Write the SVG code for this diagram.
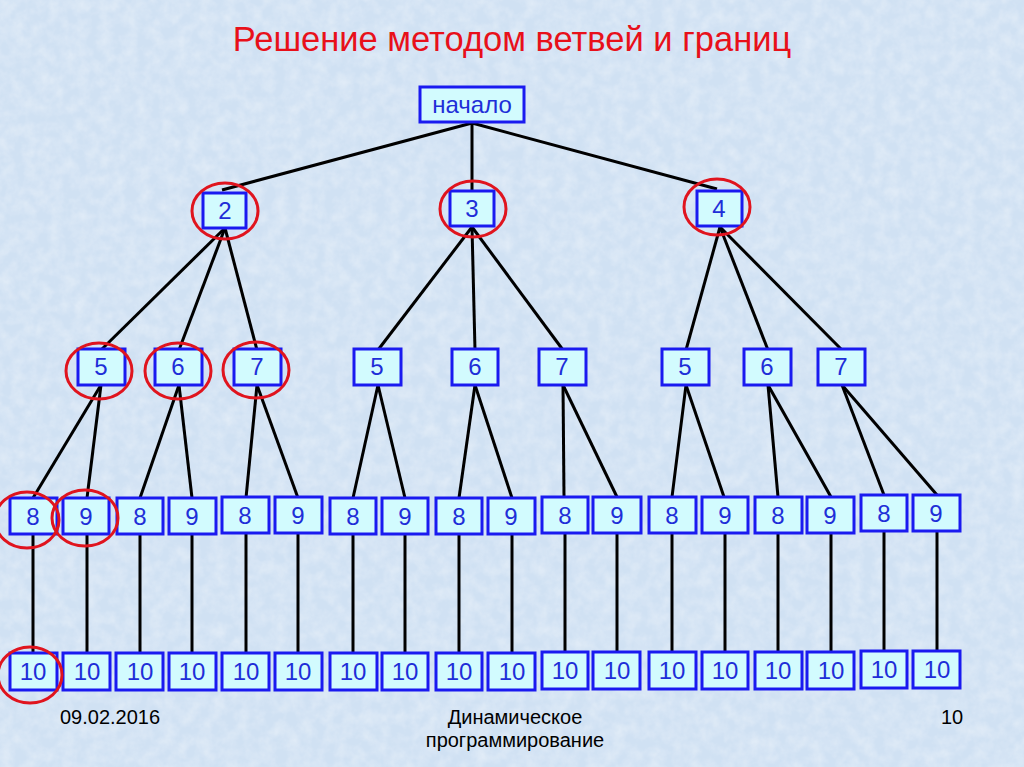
<svg xmlns="http://www.w3.org/2000/svg" width="1024" height="767" viewBox="0 0 1024 767">
<defs>
<style>
.bx{fill:#d2fbfe;stroke:#1a1af0;stroke-width:3}
.t{font-family:"Liberation Sans",Arial,sans-serif;font-size:24px;fill:#1e2ed8;text-anchor:middle}
.c{fill:none;stroke:#e0141e;stroke-width:3}
.ln{stroke:#000;stroke-width:3;fill:none}
.ft{font-family:"Liberation Sans",Arial,sans-serif;font-size:20px;fill:#000}
</style>
<filter id="tex" x="0" y="0" width="100%" height="100%">
<feTurbulence type="fractalNoise" baseFrequency="0.08" numOctaves="3" seed="4"/>
<feColorMatrix type="matrix" values="0 0 0 0 1  0 0 0 0 1  0 0 0 0 1  0 0 0 -1.6 1.1"/>
</filter>
</defs>
<rect width="1024" height="767" fill="#d0e1f3"/>
<rect width="1024" height="767" filter="url(#tex)" opacity="0.35"/>
<text x="512" y="51" font-family="Liberation Sans,Arial,sans-serif" font-size="34.5" fill="#e8101a" text-anchor="middle">Решение методом ветвей и границ</text>

<g id="connectors" class="ln">
<line x1="472" y1="123" x2="222" y2="190"/>
<line x1="472" y1="123" x2="472" y2="191"/>
<line x1="472" y1="123" x2="717" y2="189"/>
<line x1="225" y1="228" x2="101" y2="350"/>
<line x1="225" y1="228" x2="179" y2="350"/>
<line x1="225" y1="228" x2="257" y2="350"/>
<line x1="472" y1="227" x2="378" y2="350"/>
<line x1="472" y1="227" x2="475" y2="350"/>
<line x1="472" y1="227" x2="563" y2="350"/>
<line x1="720" y1="227" x2="686" y2="350"/>
<line x1="720" y1="227" x2="768" y2="350"/>
<line x1="720" y1="227" x2="842" y2="350"/>
<line x1="101" y1="385" x2="33" y2="498"/>
<line x1="101" y1="385" x2="87" y2="498"/>
<line x1="179" y1="385" x2="140" y2="498"/>
<line x1="179" y1="385" x2="192" y2="498"/>
<line x1="257" y1="385" x2="246" y2="498"/>
<line x1="257" y1="385" x2="298" y2="498"/>
<line x1="378" y1="385" x2="353" y2="498"/>
<line x1="378" y1="385" x2="405" y2="498"/>
<line x1="475" y1="385" x2="459" y2="498"/>
<line x1="475" y1="385" x2="512" y2="498"/>
<line x1="563" y1="385" x2="564" y2="497"/>
<line x1="563" y1="385" x2="617" y2="497"/>
<line x1="686" y1="385" x2="672" y2="497"/>
<line x1="686" y1="385" x2="724" y2="497"/>
<line x1="768" y1="385" x2="778" y2="497"/>
<line x1="768" y1="385" x2="831" y2="497"/>
<line x1="842" y1="385" x2="884" y2="495"/>
<line x1="842" y1="385" x2="937" y2="495"/>
<line x1="33" y1="534" x2="33" y2="653"/>
<line x1="87" y1="534" x2="87" y2="653"/>
<line x1="140" y1="534" x2="140" y2="653"/>
<line x1="192" y1="534" x2="192" y2="653"/>
<line x1="246" y1="534" x2="246" y2="653"/>
<line x1="298" y1="534" x2="298" y2="653"/>
<line x1="353" y1="534" x2="353" y2="653"/>
<line x1="405" y1="534" x2="405" y2="653"/>
<line x1="459" y1="534" x2="459" y2="653"/>
<line x1="512" y1="534" x2="512" y2="653"/>
<line x1="565" y1="533" x2="565" y2="652"/>
<line x1="617" y1="533" x2="617" y2="652"/>
<line x1="672" y1="533" x2="672" y2="652"/>
<line x1="725" y1="533" x2="725" y2="652"/>
<line x1="778" y1="533" x2="778" y2="652"/>
<line x1="831" y1="533" x2="831" y2="652"/>
<line x1="884" y1="531" x2="884" y2="651"/>
<line x1="937" y1="531" x2="937" y2="651"/>
</g>

<g id="n-root"><rect class="bx" x="420" y="87" width="104" height="35"/><text class="t" x="472" y="113" font-size="25">начало</text></g>

<g id="n2"><rect class="bx" x="203" y="193" width="43" height="35"/><text class="t" x="225" y="219">2</text></g>
<g id="n3"><rect class="bx" x="450" y="191" width="44" height="35"/><text class="t" x="472" y="217">3</text></g>
<g id="n4"><rect class="bx" x="697" y="191" width="45" height="35"/><text class="t" x="719" y="217">4</text></g>

<g id="n2-5"><rect class="bx" x="78" y="349" width="47" height="36"/><text class="t" x="101" y="375">5</text></g>
<g id="n2-6"><rect class="bx" x="155" y="349" width="47" height="36"/><text class="t" x="178" y="375">6</text></g>
<g id="n2-7"><rect class="bx" x="234" y="349" width="47" height="36"/><text class="t" x="257" y="375">7</text></g>
<g id="n3-5"><rect class="bx" x="354" y="349" width="47" height="36"/><text class="t" x="377" y="375">5</text></g>
<g id="n3-6"><rect class="bx" x="452" y="349" width="46" height="36"/><text class="t" x="475" y="375">6</text></g>
<g id="n3-7"><rect class="bx" x="539" y="349" width="47" height="36"/><text class="t" x="562" y="375">7</text></g>
<g id="n4-5"><rect class="bx" x="662" y="349" width="47" height="36"/><text class="t" x="685" y="375">5</text></g>
<g id="n4-6"><rect class="bx" x="744" y="349" width="47" height="36"/><text class="t" x="767" y="375">6</text></g>
<g id="n4-7"><rect class="bx" x="818" y="349" width="47" height="36"/><text class="t" x="841" y="375">7</text></g>

<g id="l4-1"><rect class="bx" x="10" y="498" width="47" height="36"/><text class="t" x="33" y="525">8</text></g>
<g id="l4-2"><rect class="bx" x="63" y="498" width="46" height="36"/><text class="t" x="86" y="525">9</text></g>
<g id="l4-3"><rect class="bx" x="117" y="498" width="46" height="36"/><text class="t" x="140" y="525">8</text></g>
<g id="l4-4"><rect class="bx" x="169" y="498" width="47" height="36"/><text class="t" x="192" y="525">9</text></g>
<g id="l4-5"><rect class="bx" x="222" y="497" width="47" height="36"/><text class="t" x="245" y="524">8</text></g>
<g id="l4-6"><rect class="bx" x="275" y="497" width="47" height="36"/><text class="t" x="298" y="524">9</text></g>
<g id="l4-7"><rect class="bx" x="330" y="498" width="46" height="36"/><text class="t" x="353" y="525">8</text></g>
<g id="l4-8"><rect class="bx" x="382" y="498" width="46" height="36"/><text class="t" x="405" y="525">9</text></g>
<g id="l4-9"><rect class="bx" x="436" y="498" width="46" height="36"/><text class="t" x="459" y="525">8</text></g>
<g id="l4-10"><rect class="bx" x="488" y="498" width="47" height="36"/><text class="t" x="511" y="525">9</text></g>
<g id="l4-11"><rect class="bx" x="542" y="497" width="46" height="36"/><text class="t" x="565" y="524">8</text></g>
<g id="l4-12"><rect class="bx" x="593" y="497" width="48" height="36"/><text class="t" x="617" y="524">9</text></g>
<g id="l4-13"><rect class="bx" x="649" y="497" width="47" height="36"/><text class="t" x="672" y="524">8</text></g>
<g id="l4-14"><rect class="bx" x="702" y="497" width="46" height="36"/><text class="t" x="725" y="524">9</text></g>
<g id="l4-15"><rect class="bx" x="755" y="497" width="47" height="36"/><text class="t" x="778" y="524">8</text></g>
<g id="l4-16"><rect class="bx" x="807" y="497" width="47" height="36"/><text class="t" x="830" y="524">9</text></g>
<g id="l4-17"><rect class="bx" x="861" y="495" width="46" height="36"/><text class="t" x="884" y="522">8</text></g>
<g id="l4-18"><rect class="bx" x="913" y="495" width="47" height="36"/><text class="t" x="936" y="522">9</text></g>

<g id="l5-1"><rect class="bx" x="10" y="653" width="47" height="37"/><text class="t" x="33" y="680">10</text></g>
<g id="l5-2"><rect class="bx" x="63" y="653" width="47" height="37"/><text class="t" x="87" y="680">10</text></g>
<g id="l5-3"><rect class="bx" x="116" y="653" width="47" height="37"/><text class="t" x="140" y="680">10</text></g>
<g id="l5-4"><rect class="bx" x="169" y="653" width="47" height="37"/><text class="t" x="192" y="680">10</text></g>
<g id="l5-5"><rect class="bx" x="222" y="653" width="47" height="37"/><text class="t" x="246" y="680">10</text></g>
<g id="l5-6"><rect class="bx" x="275" y="653" width="47" height="37"/><text class="t" x="298" y="680">10</text></g>
<g id="l5-7"><rect class="bx" x="330" y="653" width="47" height="37"/><text class="t" x="353" y="680">10</text></g>
<g id="l5-8"><rect class="bx" x="382" y="653" width="46" height="37"/><text class="t" x="405" y="680">10</text></g>
<g id="l5-9"><rect class="bx" x="436" y="653" width="46" height="37"/><text class="t" x="459" y="680">10</text></g>
<g id="l5-10"><rect class="bx" x="488" y="653" width="47" height="37"/><text class="t" x="512" y="680">10</text></g>
<g id="l5-11"><rect class="bx" x="542" y="652" width="46" height="37"/><text class="t" x="565" y="679">10</text></g>
<g id="l5-12"><rect class="bx" x="593" y="652" width="47" height="37"/><text class="t" x="617" y="679">10</text></g>
<g id="l5-13"><rect class="bx" x="649" y="652" width="47" height="37"/><text class="t" x="672" y="679">10</text></g>
<g id="l5-14"><rect class="bx" x="702" y="652" width="46" height="37"/><text class="t" x="725" y="679">10</text></g>
<g id="l5-15"><rect class="bx" x="755" y="652" width="47" height="37"/><text class="t" x="778" y="679">10</text></g>
<g id="l5-16"><rect class="bx" x="807" y="652" width="47" height="37"/><text class="t" x="831" y="679">10</text></g>
<g id="l5-17"><rect class="bx" x="861" y="651" width="46" height="37"/><text class="t" x="884" y="678">10</text></g>
<g id="l5-18"><rect class="bx" x="913" y="651" width="47" height="37"/><text class="t" x="937" y="678">10</text></g>

<g id="marks">
<ellipse class="c" cx="225" cy="211" rx="33" ry="28"/>
<ellipse class="c" cx="473" cy="209" rx="33" ry="28"/>
<ellipse class="c" cx="717" cy="207" rx="33" ry="28"/>
<ellipse class="c" cx="99" cy="371" rx="33" ry="28"/>
<ellipse class="c" cx="178" cy="371" rx="33" ry="28"/>
<ellipse class="c" cx="256" cy="370" rx="33" ry="28"/>
<ellipse class="c" cx="27" cy="520" rx="32" ry="28"/>
<ellipse class="c" cx="85" cy="518" rx="33" ry="28"/>
<ellipse class="c" cx="30" cy="675" rx="32" ry="28"/>
</g>

<text class="ft" x="60" y="724">09.02.2016</text>
<text class="ft" x="515" y="724" text-anchor="middle">Динамическое</text>
<text class="ft" x="515" y="747" text-anchor="middle">программирование</text>
<text class="ft" x="941" y="724">10</text>
</svg>
